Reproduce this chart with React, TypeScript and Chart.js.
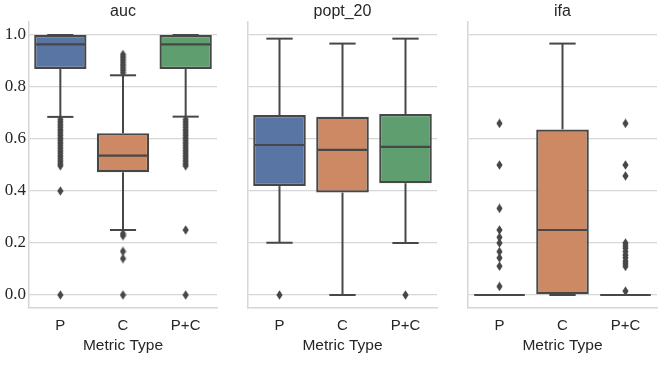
import React, { useEffect, useRef } from "react";
import { Chart, registerables } from "chart.js";

Chart.register(...registerables);

// ---------- data ----------
const categories = ["P", "C", "P+C"];
const yTickValues = [0, 0.2, 0.4, 0.6, 0.8, 1.0];
const panelTitles = ["auc", "popt_20", "ifa"];
const xAxisTitle = "Metric Type";

// auc
const aucQ1 = [0.869, 0.472, 0.869];
const aucQ3 = [1.0, 0.622, 1.0];
const aucMedian = [0.964, 0.536, 0.964];
const aucWhiskerLow = [0.685, 0.25, 0.686];
const aucWhiskerHigh = [1.0, 0.845, 1.0];
const aucOutliersP = [0.675, 0.665, 0.655, 0.645, 0.635, 0.625, 0.615, 0.605, 0.595, 0.585, 0.575, 0.565, 0.555, 0.545, 0.535, 0.525, 0.515, 0.505, 0.497, 0.40, 0.0];
const aucOutliersC = [0.925, 0.915, 0.905, 0.895, 0.885, 0.875, 0.865, 0.855, 0.236, 0.228, 0.168, 0.14, 0.0];
const aucOutliersPC = [0.675, 0.665, 0.655, 0.645, 0.635, 0.625, 0.615, 0.605, 0.595, 0.585, 0.575, 0.565, 0.555, 0.545, 0.535, 0.525, 0.515, 0.505, 0.497, 0.25, 0.0];

// popt_20
const poptQ1 = [0.419, 0.394, 0.43];
const poptQ3 = [0.692, 0.686, 0.696];
const poptMedian = [0.577, 0.558, 0.57];
const poptWhiskerLow = [0.201, 0.0, 0.2];
const poptWhiskerHigh = [0.986, 0.967, 0.986];
const poptOutliersP = [0.0];
const poptOutliersC: number[] = [];
const poptOutliersPC = [0.0];

// ifa
const ifaQ1 = [0.0, 0.0, 0.0];
const ifaQ3 = [0.0, 0.637, 0.0];
const ifaMedian = [0.0, 0.25, 0.0];
const ifaWhiskerLow = [0.0, 0.0, 0.0];
const ifaWhiskerHigh = [0.0, 0.967, 0.0];
const ifaOutliersP = [0.66, 0.5, 0.333, 0.25, 0.222, 0.2, 0.167, 0.143, 0.111, 0.033];
const ifaOutliersC: number[] = [];
const ifaOutliersPC = [0.66, 0.5, 0.458, 0.2, 0.19, 0.18, 0.167, 0.154, 0.143, 0.13, 0.12, 0.11, 0.015];

// ---------- styles ----------
const boxColors = ["#5975a4", "#cc8963", "#5f9e6e"];
const lineColor = "#474747";
const gridColor = "#d6d6d6";
const textColor = "#262626";
const SANS = "Liberation Sans, Arial, sans-serif";
const SERIF_FONT = "17px Liberation Serif";

type Panel = {
  title: string;
  q1: number[];
  q3: number[];
  med: number[];
  lo: number[];
  hi: number[];
  outliers: number[][];
  left: number;
  width: number;
  yAxisWidth: number;
  rightPad: number;
  showYLabels: boolean;
};

const panels: Panel[] = [
  { title: panelTitles[0], q1: aucQ1, q3: aucQ3, med: aucMedian, lo: aucWhiskerLow, hi: aucWhiskerHigh,
    outliers: [aucOutliersP, aucOutliersC, aucOutliersPC], left: 0, width: 222, yAxisWidth: 29, rightPad: 4, showYLabels: true },
  { title: panelTitles[1], q1: poptQ1, q3: poptQ3, med: poptMedian, lo: poptWhiskerLow, hi: poptWhiskerHigh,
    outliers: [poptOutliersP, poptOutliersC, poptOutliersPC], left: 222, width: 220, yAxisWidth: 26, rightPad: 5, showYLabels: false },
  { title: panelTitles[2], q1: ifaQ1, q3: ifaQ3, med: ifaMedian, lo: ifaWhiskerLow, hi: ifaWhiskerHigh,
    outliers: [ifaOutliersP, ifaOutliersC, ifaOutliersPC], left: 442, width: 222, yAxisWidth: 26, rightPad: 7, showYLabels: false },
];

function makeDiamond(): HTMLCanvasElement {
  const c = document.createElement("canvas");
  c.width = 7;
  c.height = 10;
  const g = c.getContext("2d")!;
  g.fillStyle = lineColor;
  g.beginPath();
  g.moveTo(3.5, 0.3);
  g.lineTo(6.6, 5);
  g.lineTo(3.5, 9.7);
  g.lineTo(0.4, 5);
  g.closePath();
  g.fill();
  return c;
}

function BoxPanel({ p }: { p: Panel }) {
  const ref = useRef<HTMLCanvasElement | null>(null);
  useEffect(() => {
    if (!ref.current) return;
    const diamond = makeDiamond();
    const whiskerPlugin = {
      id: "boxWhiskers",
      afterDatasetsDraw(chart: any) {
        const { ctx } = chart;
        const xs = chart.scales.x;
        const ys = chart.scales.y;
        const meta = chart.getDatasetMeta(0);
        ctx.save();
        ctx.strokeStyle = lineColor;
        ctx.lineCap = "butt";
        const line = (x1: number, y1: number, x2: number, y2: number, lw: number) => {
          ctx.lineWidth = lw;
          ctx.beginPath();
          ctx.moveTo(x1, y1);
          ctx.lineTo(x2, y2);
          ctx.stroke();
        };
        categories.forEach((_, i) => {
          const x = xs.getPixelForValue(i);
          const w = meta.data[i].width;
          const half = w / 2;
          const cap = w / 4;
          const yq1 = ys.getPixelForValue(p.q1[i]);
          const yq3 = ys.getPixelForValue(p.q3[i]);
          const ylo = ys.getPixelForValue(p.lo[i]);
          const yhi = ys.getPixelForValue(p.hi[i]);
          const ymed = ys.getPixelForValue(p.med[i]);
          line(x, yq1, x, ylo, 2);
          line(x - cap, ylo, x + cap, ylo, 2);
          line(x, yq3, x, yhi, 2);
          line(x - cap, yhi, x + cap, yhi, 2);
          line(x - half + 1, ymed, x + half - 1, ymed, 2.2);
        });
        ctx.restore();
      },
      afterDraw(chart: any) {
        if (!p.showYLabels) return;
        const { ctx } = chart;
        const ys = chart.scales.y;
        ctx.save();
        ctx.font = SERIF_FONT;
        ctx.fillStyle = textColor;
        ctx.textAlign = "right";
        ctx.textBaseline = "middle";
        yTickValues.forEach((v) => {
          ctx.fillText(v.toFixed(1), ys.right - 3, ys.getPixelForValue(v));
        });
        ctx.restore();
      },
    };

    const chart = new Chart(ref.current, {
      type: "bar",
      data: {
        labels: categories,
        datasets: [
          {
            type: "bar",
            data: p.q1.map((v, i) => [v, p.q3[i]]) as any,
            backgroundColor: boxColors,
            borderColor: lineColor,
            borderWidth: 2.3,
            borderSkipped: false,
            barPercentage: 0.835,
            categoryPercentage: 1,
            order: 2,
          } as any,
          ...categories.map((c, i) => ({
            type: "scatter",
            data: p.outliers[i].map((y) => ({ x: c, y })),
            pointStyle: diamond,
            pointRadius: 5,
            backgroundColor: lineColor,
            borderWidth: 0,
            order: 1,
          })) as any,
        ],
      },
      options: {
        animation: false,
        responsive: false,
        events: [],
        layout: { padding: { left: 0, right: p.rightPad, top: 0, bottom: 0 } },
        plugins: {
          legend: { display: false },
          tooltip: { enabled: false },
          title: {
            display: true,
            text: p.title,
            fullSize: false,
            color: textColor,
            font: { family: SANS, size: 16, weight: "normal" },
            padding: { top: 2, bottom: 0.8 },
          },
        },
        scales: {
          x: {
            type: "category",
            offset: true,
            grid: { display: false, drawTicks: false },
            border: { display: true, color: gridColor, width: 1.5 },
            ticks: { color: textColor, font: { family: SANS, size: 15 }, padding: 9 },
            title: {
              display: true,
              text: xAxisTitle,
              color: textColor,
              font: { family: SANS, size: 15.5 },
              padding: { top: 0, bottom: 10 },
            },
            afterFit: (s: any) => {
              s.height = 57;
            },
          },
          y: {
            type: "linear",
            min: -0.05,
            max: 1.05,
            afterBuildTicks: (s: any) => {
              s.ticks = yTickValues.map((v) => ({ value: v }));
            },
            grid: { color: gridColor, lineWidth: 1.3, drawTicks: false },
            border: { display: true, color: gridColor, width: 1.5 },
            ticks: { display: false },
            afterFit: (s: any) => {
              s.width = p.yAxisWidth;
            },
          },
        },
      } as any,
      plugins: [whiskerPlugin],
    });
    return () => {
      chart.destroy();
    };
  }, [p]);

  return (
    <div style={{ position: "absolute", left: p.left, top: 0, width: p.width, height: 365 }}>
      <canvas ref={ref} width={p.width} height={365} style={{ width: p.width, height: 365, display: "block" }} />
    </div>
  );
}

export default function App() {
  return (
    <div style={{ position: "fixed", left: 0, top: 0, width: 664, height: 365, background: "#ffffff" }}>
      {panels.map((p, i) => (
        <BoxPanel key={i} p={p} />
      ))}
    </div>
  );
}
